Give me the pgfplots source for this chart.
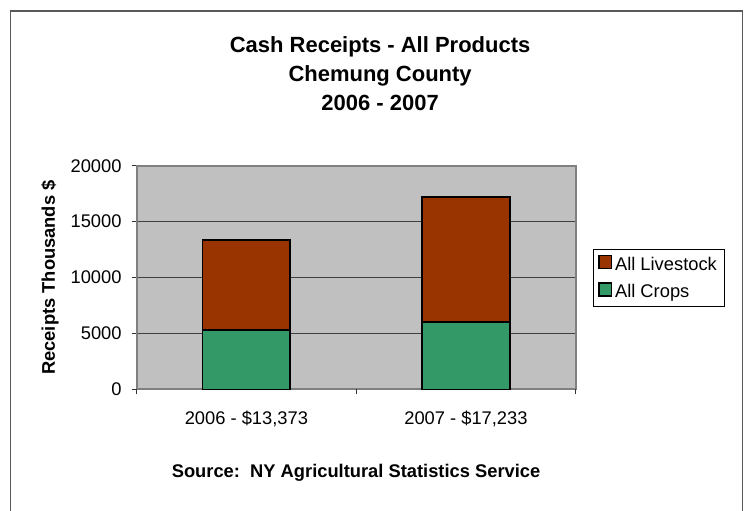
\documentclass[border=0pt]{standalone}
\usepackage{fontspec}
\setmainfont{Liberation Sans}
\usepackage{pgfplots}
\pgfplotsset{compat=1.18}
\definecolor{crops}{HTML}{339966}
\definecolor{livestock}{HTML}{993300}
\definecolor{plotbg}{HTML}{C0C0C0}
\definecolor{framegray}{HTML}{808080}
\begin{document}
\begin{tikzpicture}
\useasboundingbox (0,0) rectangle (410pt,278.5pt);
\clip (0,0) rectangle (410pt,278.5pt);
\draw[black!65, line width=0.6pt] (5.5pt,-10pt) rectangle (405.5pt,272.5pt);
\begin{axis}[
  at={(74.6pt,65.9pt)}, anchor=south west,
  scale only axis, width=239.7pt, height=122.1pt,
  ybar stacked, bar width=0.4,
  xmin=-0.5, xmax=1.5, ymin=0, ymax=20000,
  xtick={0,1},
  xticklabels={{2006 - \$13,373},{2007 - \$17,233}},
  extra x ticks={-0.5,0.5,1.5},
  extra x tick labels={},
  tick align=outside, major tick length=2.7pt,
  xtick pos=bottom, ytick pos=left,
  tick style={black!80, line width=0.5pt},
  xtick style={draw=none},
  extra x tick style={xtick style={draw=black!80}},
  ytick={0,5000,10000,15000,20000},
  scaled y ticks=false,
  ymajorgrids,
  grid style={black!75, line width=0.5pt},
  axis background/.style={fill=plotbg},
  axis line style={framegray, line width=1.1pt},
  /pgf/number format/assume math mode=true,
  /pgf/number format/1000 sep={},
  yticklabel style={xshift=-2pt},
  xticklabel style={yshift=-5.3pt},
  legend style={at={(1.0394,0.626)}, anchor=north west, draw=black, line width=0.5pt,
    inner xsep=2.5pt, inner ysep=1.5pt, row sep=2.3pt,
    nodes={text height=8.2pt, text depth=1.5pt, inner sep=1.5pt}},
  reverse legend,
  legend cell align=left,
  legend image code/.code={\draw[#1, line width=0.8pt] (0pt,-2.3pt) rectangle (7pt,4.7pt);},
  ylabel={Receipts Thousands \$},
  ylabel style={at={(axis description cs:-0.1973,0.5)}, anchor=center, font=\bfseries},
  every axis title shift=0pt,
  title={Cash Receipts - All Products\\Chemung County\\2006 - 2007},
  title style={at={(axis description cs:0.5545,1.4103)}, anchor=center, align=center,
    font=\bfseries\fontsize{12}{15.8}\selectfont},
]
\addplot[fill=crops, draw=black, line width=0.9pt] coordinates {(0,5300) (1,6050)};
\addlegendentry{All Crops}
\addplot[fill=livestock, draw=black, line width=0.9pt] coordinates {(0,8073) (1,11183)};
\addlegendentry{All Livestock}
\end{axis}
\node[font=\bfseries] at (194.4pt,20.2pt) {Source:\ \ NY Agricultural Statistics Service};
\end{tikzpicture}
\end{document}
